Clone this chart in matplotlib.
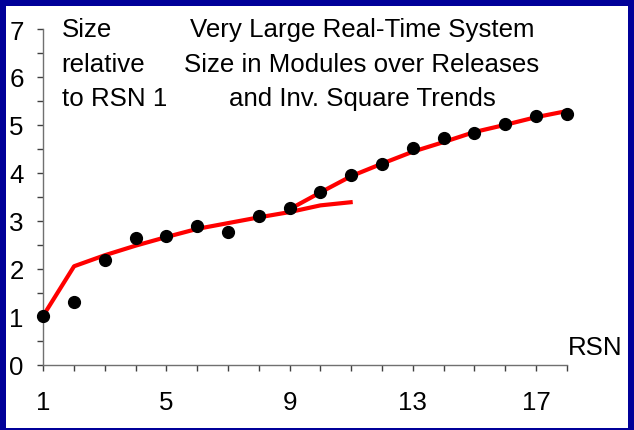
import matplotlib.pyplot as plt
from matplotlib.patches import Rectangle
from matplotlib.ticker import MultipleLocator, FixedLocator

# release numbers and relative size
rsn = [1, 2, 3, 4, 5, 6, 7, 8, 9, 10, 11, 12, 13, 14, 15, 16, 17, 18]
size = [1.02, 1.30, 2.18, 2.63, 2.68, 2.89, 2.77, 3.09, 3.26, 3.59,
        3.96, 4.18, 4.51, 4.72, 4.84, 5.01, 5.19, 5.23]

# first trend line (RSN 1..11)
trend1_x = [1, 2, 3, 4, 5, 6, 7, 8, 9, 10, 11.05]
trend1_y = [1.02, 2.05, 2.28, 2.48, 2.66, 2.83, 2.95, 3.07, 3.18, 3.32, 3.39]

# second trend line (RSN 9..18)
trend2_x = [9, 10, 11, 12, 13, 14, 15, 16, 17, 18.1]
trend2_y = [3.24, 3.59, 3.93, 4.19, 4.44, 4.64, 4.85, 5.00, 5.16, 5.30]

left_text = ['Size', 'relative', 'to RSN 1']
title_text = ['Very Large Real-Time System', 'Size in Modules over Releases',
              'and Inv. Square Trends']
x_labels = [1, 5, 9, 13, 17]

plt.rcParams['font.family'] = ['Liberation Sans', 'DejaVu Sans']
FS = 18.6

fig = plt.figure(figsize=(6.34, 4.31), dpi=100)
fig.patch.set_facecolor('#000099')
# white panel inside the blue frame
fig.patches.append(Rectangle((6 / 634, 2 / 431), 622 / 634, 422 / 431,
                             transform=fig.transFigure, facecolor='white',
                             edgecolor='none', zorder=-10))

ax = fig.add_axes([43.3 / 634, 65.5 / 431, (566.7 - 43.3) / 634, (365.5 - 30) / 431])
ax.patch.set_alpha(0)

ax.plot(trend1_x, trend1_y, color='#ff0000', lw=3, solid_capstyle='butt', zorder=2, clip_on=False)
ax.plot(trend2_x, trend2_y, color='#ff0000', lw=3, solid_capstyle='butt', zorder=2, clip_on=False)
ax.plot(rsn, size, 'o', color='black', markersize=8.5, zorder=3, clip_on=False)

ax.set_xlim(1, 18)
ax.set_ylim(0, 7)

ax.spines['top'].set_visible(False)
ax.spines['right'].set_visible(False)
for s in ['left', 'bottom']:
    ax.spines[s].set_color('#707070')
    ax.spines[s].set_linewidth(1.0)

ax.xaxis.set_major_locator(FixedLocator(x_labels))
ax.xaxis.set_minor_locator(MultipleLocator(1))
ax.yaxis.set_major_locator(MultipleLocator(1))
ax.yaxis.set_minor_locator(MultipleLocator(0.5))

ax.tick_params(axis='x', which='both', direction='out', length=4.5, width=1,
               color='#404040', labelsize=FS, pad=14)
ax.tick_params(axis='y', which='both', direction='out', length=4.5, width=1,
               color='#404040', labelsize=FS, pad=9.5)

# stacked texts at the top
base_y = [37.3, 71.7, 106]
for txt, y in zip(left_text, base_y):
    fig.text(61.7 / 634, 1 - y / 431, txt, fontsize=FS, ha='left', va='baseline')
for txt, y in zip(title_text, base_y):
    fig.text(362 / 634, 1 - y / 431, txt, fontsize=FS, ha='center', va='baseline')

fig.text(622.7 / 634, 1 - 355 / 431, 'RSN', fontsize=FS, ha='right', va='baseline')

fig.savefig('out.png', dpi=100, facecolor=fig.get_facecolor())
